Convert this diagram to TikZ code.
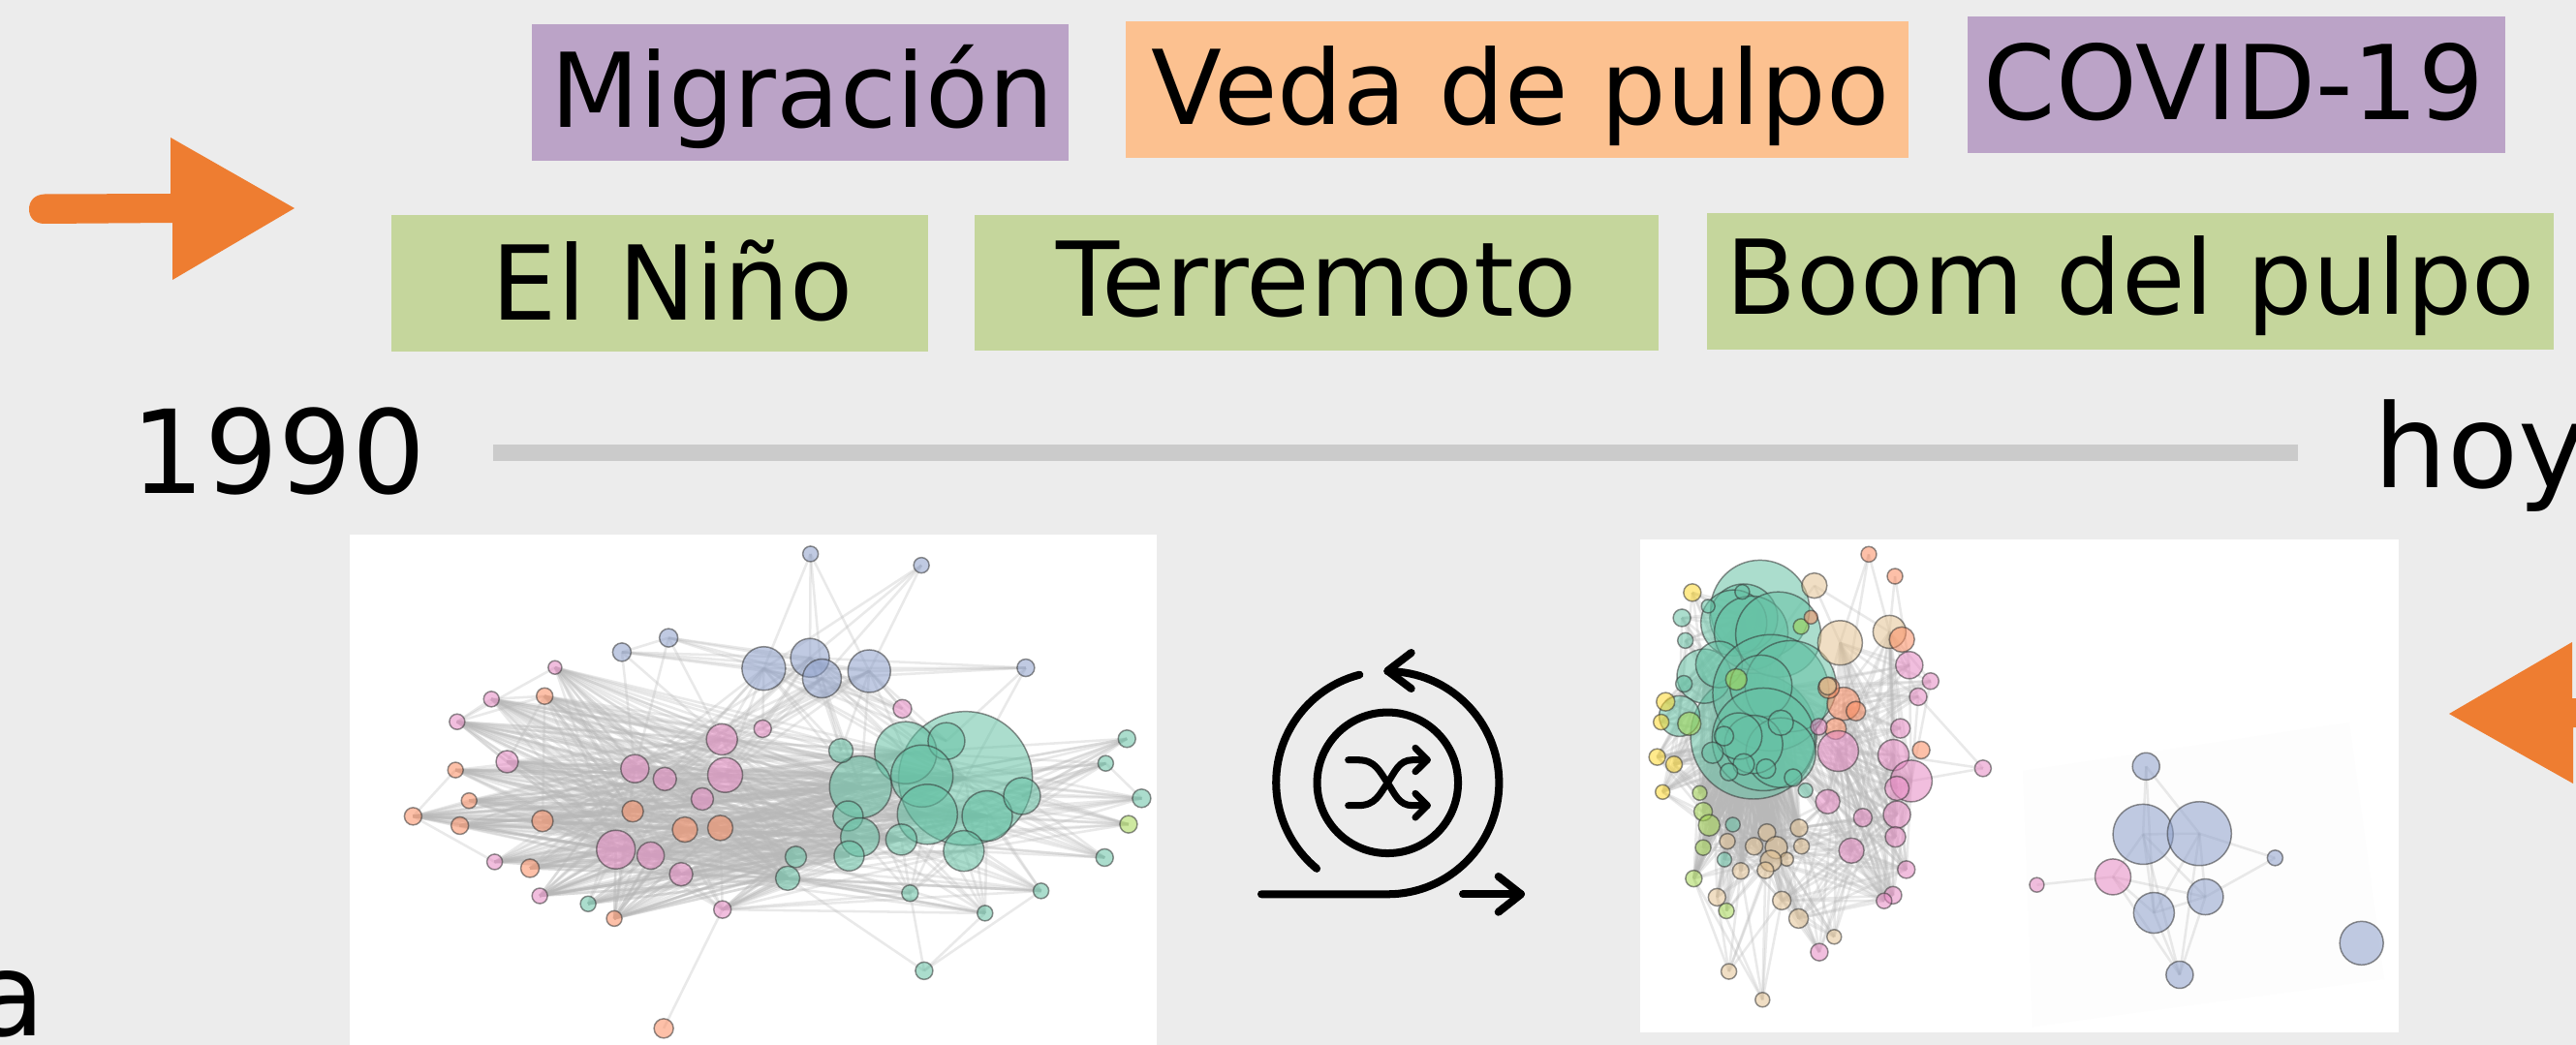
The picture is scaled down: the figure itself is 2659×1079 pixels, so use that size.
\documentclass[tikz,border=0pt]{standalone}
\usepackage{fontspec}
\setmainfont{DejaVu Sans}
\pgfdeclarelayer{panel}
\pgfdeclarelayer{edges}
\pgfsetlayers{panel,edges,main}
\definecolor{pageBg}{HTML}{ECECEC}
\definecolor{purpleTag}{HTML}{BBA3C7}
\definecolor{peachTag}{HTML}{FCC190}
\definecolor{greenTag}{HTML}{C5D69C}
\definecolor{barGrey}{HTML}{CBCBCB}
\definecolor{arrowOrange}{HTML}{EE7D31}
\definecolor{sGreen}{HTML}{66C2A5}
\definecolor{sOrange}{HTML}{FC8D62}
\definecolor{sBlue}{HTML}{8DA0CB}
\definecolor{sPink}{HTML}{E78AC3}
\definecolor{sLime}{HTML}{A6D854}
\definecolor{sYellow}{HTML}{FFD92F}
\definecolor{sTan}{HTML}{E5C494}
\definecolor{edgeGrey}{HTML}{B8B8B8}
\definecolor{patchWhite}{HTML}{FDFDFD}
\tikzset{
  tagbox/.style={anchor=north west,inner sep=0pt,outer sep=0pt},
  taglabel/.style={anchor=base west,inner sep=0pt,font=\fontsize{30.3}{36}\selectfont},
  yearlabel/.style={anchor=base west,inner sep=0pt,font=\fontsize{34}{40}\selectfont},
  gnode/.style={circle,inner sep=0pt,outer sep=0pt,draw=black!80,draw opacity=.55,fill opacity=.55,line width=.42pt},
  gedge/.style={draw=edgeGrey,draw opacity=.3,line width=.72pt},
  iconline/.style={line width=2.28pt,line cap=round,line join=round,black},
  bigarrow/.style={fill=arrowOrange,draw=none}
}
\newcommand{\gnodes}[4]{%
  \foreach \n/\px/\py/\r/\c in {#4}{
    \node[gnode,fill=\c,minimum size={2*\r*0.01cm}] (\n) at ({#1+\px/#3},{#2+\py/2.909}) {};
  }}
\newcommand{\links}[2]{%
  \foreach \a in {#1}{\foreach \b in {#2}{\draw[gedge] (\a.center) -- (\b.center);}}}
\begin{document}
\begin{tikzpicture}[x=0.01cm,y=-0.01cm]
\clip (0,0) rectangle (2659,1079);
\begin{pgfonlayer}{panel}
  \fill[pageBg] (0,0) rectangle (2659,1079);
  \fill[white] (361,552) rectangle (1194,1079);
  \fill[white] (1693,557) rectangle (2476,1066);
  \fill[patchWhite] (2088,796) -- (2425,746) -- (2461,1011) -- (2098,1060) -- cycle;
\end{pgfonlayer}

% tags
\node[tagbox,fill=purpleTag,minimum width=5.54cm,minimum height=1.41cm] (r1) at (549,25) {};
\node[tagbox,fill=peachTag,minimum width=8.08cm,minimum height=1.405cm] (r2) at (1162,22) {};
\node[tagbox,fill=purpleTag,minimum width=5.55cm,minimum height=1.41cm] (r3) at (2031,17) {};
\node[tagbox,fill=greenTag,minimum width=5.54cm,minimum height=1.406cm] (r4) at (404,222) {};
\node[tagbox,fill=greenTag,minimum width=7.06cm,minimum height=1.40cm] (r5) at (1006,222) {};
\node[tagbox,fill=greenTag,minimum width=8.73cm,minimum height=1.41cm] (r6) at (1762,220) {};
\node[taglabel] (t1) at (568,131.5) {Migración};
\node[taglabel] (t2) at (1188,129) {Veda de pulpo};
\node[taglabel] (t3) at (2047,124) {COVID-19};
\node[taglabel] (t4) at (507,330.5) {El Niño};
\node[taglabel] (t5) at (1090,327) {Terremoto};
\node[taglabel] (t6) at (1781,324.5) {Boom del pulpo};
\node[yearlabel] (y1990) at (135,509) {1990};
\node[yearlabel] (yhoy) at (2450,503) {hoy};
\node[yearlabel] (ya) at (-27,1069) {a};

% timeline
\node[fill=barGrey,inner sep=0pt,outer sep=0pt,anchor=north west,minimum width=18.62cm,minimum height=0.17cm] (bar) at (509,459) {};

% orange arrows
\path[bigarrow] (176,142) -- (304,215) -- (178,289) -- (178,230) -- (46,231)
  .. controls (35,231) and (30,224) .. (30,216) .. controls (30,208) and (35,201) .. (46,200.5)
  -- (176,200) -- cycle;
\path[bigarrow] (2528,737) -- (2655,663) -- (2655,721) -- (2670,721) -- (2670,751) -- (2656,751) -- (2656,809) -- cycle;

% icon
\node[circle,draw=black,line width=2.28pt,inner sep=0pt,minimum size=1.454cm] (inner) at (1432.3,808.3) {};
\draw[iconline] (1403.3,696.7) arc[start angle=104.6,end angle=230.5,radius=1.15cm];
\draw[iconline] (1302,923.3) -- (1432.3,923.3) arc[start angle=-90,end angle=90,radius=1.15cm];
\draw[iconline] (1456.7,674) -- (1432.3,692.7) -- (1456.7,711);
\draw[iconline] (1510,923.3) -- (1570,923.3);
\draw[iconline] (1546.7,905) -- (1570,923.3) -- (1546.7,941.7);
\draw[iconline,line width=2pt] (1391.7,784.7) -- (1402,784.7) .. controls (1420,784.7) and (1424,797) .. (1432.3,808.3) .. controls (1440,820) and (1444,831.7) .. (1458,831.7) -- (1473.3,831.7);
\draw[iconline,line width=2pt] (1391.7,831.7) -- (1402,831.7) .. controls (1420,831.7) and (1424,820) .. (1432.3,808.3) .. controls (1440,797) and (1444,784.7) .. (1458,784.7) -- (1473.3,784.7);
\draw[iconline,line width=2pt] (1461,819.3) -- (1473.3,831.7) -- (1461,844);
\draw[iconline,line width=2pt] (1461,772.3) -- (1473.3,784.7) -- (1461,796.7);

% graph 1 nodes
\gnodes{340}{540}{1.782}{
 b1/885/93/8/sBlue,b2/1089/127/8/sBlue,b3/624/345/9.5/sBlue,b4/538/388/9.5/sBlue,
 b5/799/437/22.5/sBlue,b6/884/405/20/sBlue,b7/906/467/20/sBlue,b8/993/445/22/sBlue,b9/1281/435/9/sBlue,
 p1/415/434/7/sPink,p2/298/529/8/sPink,p3/235/597/8/sPink,p4/327/717/11.5/sPink,
 p5/722/650/16/sPink,p6/797/618/9/sPink,p7/1054/558/9.5/sPink,p8/562/738/14.5/sPink,
 p9/617/769/12/sPink,p10/728/757/18/sPink,p11/686/829/11.5/sPink,p12/527/981/20/sPink,
 p13/591/999/14/sPink,p14/647/1055/12/sPink,p15/304/1018/8/sPink,p16/387/1120/8/sPink,p17/723/1161/9/sPink,
 o1/396/520/8.5/sOrange,o2/232/742/8/sOrange,o3/257/834/8/sOrange,o4/154/881/9/sOrange,
 o5/240/909/9/sOrange,o6/392/895/11/sOrange,o7/558/866/11/sOrange,o8/654/921/13/sOrange,
 o9/719/916/13/sOrange,o10/369/1037/9.5/sOrange,o11/524/1188/8/sOrange,o12/615/1518/10/sOrange,
 g1/1170/767/69/sGreen,g2/1060/690/32/sGreen,g3/1135/655/19/sGreen,g4/1090/760/32/sGreen,
 g5/1100/875/31/sGreen,g6/1210/880/26/sGreen,g7/1274/820/19/sGreen,g8/1167/985/21/sGreen,
 g9/977/793/32/sGreen,g10/941/684/12.5/sGreen,g11/954/880/15.5/sGreen,g12/976/944/20/sGreen,
 g13/956/1000/15.5/sGreen,g14/1052/951/16/sGreen,g15/858/1003/11/sGreen,g16/843/1067/12.5/sGreen,
 g17/476/1144/8/sGreen,g18/1068/1112/8.5/sGreen,g19/1206/1172/8/sGreen,g20/1309/1105/8/sGreen,
 g21/1094/1345/9/sGreen,g22/1467/648/9/sGreen,g23/1428/722/8/sGreen,g24/1494/827/9.5/sGreen,
 g25/1426/1005/9/sGreen,v1/1470/905/9/sLime}

% graph 2 nodes
\gnodes{1680}{540}{1.96}{
 H7/255/640/65/sGreen,H1/268/260/51/sGreen,H2/235/285/35/sGreen,H27/215/300/34/sGreen,H28/250/330/38/sGreen,H3/305/335/44/sGreen,H4/155/460/28/sGreen,H29/185/425/24/sGreen,
 H5/290/510/60/sGreen,H6/330/490/47/sGreen,H30/270/490/32/sGreen,H8/275/650/53/sGreen,H9/310/690/36/sGreen,H31/255/665/30/sGreen,H10/225/640/24/sGreen,
 H11/310/600/13/sGreen,H12/195/640/10/sGreen,H13/172/690/11/sGreen,H14/235/725/11/sGreen,H15/205/748/9/sGreen,
 H16/280/738/10/sGreen,H17/335/765/9/sGreen,H18/232/207/7.5/sGreen,H19/163/250/7/sGreen,H20/110/285/9/sGreen,
 H21/117/353/8/sGreen,H22/114/483/8.5/sGreen,H23/105/580/21/sGreen,H24/360/803/7.5/sGreen,H25/213/906/7.5/sGreen,H26/196/1011/7.5/sGreen,
 Y1/131/209/9/sYellow,Y2/77/537/9.5/sYellow,Y3/68/598/8/sYellow,Y4/60/703/8.5/sYellow,Y5/94/725/8.5/sYellow,Y6/71/808/7.5/sYellow,
 L1/351/311/8/sLime,L2/220/470/11/sLime,L3/125/603/12/sLime,L4/146/811/7.5/sLime,L5/153/867/9.5/sLime,
 L6/165/908/11/sLime,L7/153/975/8/sLime,L8/134/1068/8.5/sLime,L9/200/1165/8/sLime,
 R1/488/94/8/sOrange,R2/541/160/8/sOrange,R3/371/283/7/sOrange,R5/437/543/17/sOrange,R6/462/565/10/sOrange,
 R7/421/618/11/sOrange,R8/594/682/9/sOrange,R9/407/495/11/sOrange,
 T1/378/188/13/sTan,T2/430/360/23/sTan,T3/530/327/17/sTan,R4/555/350/13/sOrange,T4/405/490/9/sTan,
 T5/282/930/9/sTan,T6/347/916/9/sTan,T7/202/956/8/sTan,T8/256/971/9/sTan,T9/301/975/11.5/sTan,
 T10/352/971/8/sTan,T11/322/1010/7/sTan,T12/290/1015/11/sTan,T13/229/1045/8.5/sTan,T14/279/1043/8.5/sTan,
 T15/181/1124/9/sTan,T16/312/1134/9.5/sTan,T17/346/1188/10/sTan,T18/418/1243/7.5/sTan,T19/205/1347/8/sTan,T20/273/1432/7.5/sTan,
 K1/570/427/14/sPink,K2/613/475/8.5/sPink,K3/588/522/9/sPink,K4/552/617/10/sPink,K5/387/612/8.5/sPink,
 K6/426/685/21/sPink,K7/538/697/16/sPink,K8/574/775/21.5/sPink,K9/545/797/12.5/sPink,K10/719/737/8.5/sPink,
 K11/405/837/12.5/sPink,K12/545/876/14/sPink,K13/476/885/9.5/sPink,K14/542/943/10.5/sPink,K15/453/984/13/sPink,
 K16/564/1041/9/sPink,K17/537/1118/9/sPink,K18/519/1135/8/sPink,K19/388/1289/9/sPink,
 C1/1049/731/14/sBlue,C2/1043/935/31/sBlue,C3/1157/933/33/sBlue,C4/1310/1006/8/sBlue,C5/1169/1123/18.5/sBlue,
 C6/1065/1171/21/sBlue,C7/1117/1357/14/sBlue,C8/1485/1262/22.5/sBlue,D1/828/1087/7.5/sPink,D2/982/1063/18.5/sPink}

% edges
\begin{pgfonlayer}{edges}
 \links{p1,p2,p3,p4,p8,p9,p5,p10,p11,p12,p13,p14,p15,p16,p17,o1,o2,o3,o4,o5,o6,o7,o8,o9,o10,o11,g17}{g1,g2,g4,g5,g6,g9,g12,g13,g14,g15,g16}
 \links{o2,o3,o4,o5,p3,p2,p1,o1,p4,o6,p15,o10,p16,o11}{p8,p9,p10,p5,p11,p12,p13,p14,o7,o8,o9}
 \links{p16,g17,o11,p17}{p12,p13,p14,o8,o9,p8,g15,g16}
 \links{g16,g15,p17,p14,p13}{g18,g19,g20,g8}
 \links{b5,b6,b7,b8}{p5,p6,p8,p10,g2,g3,g9,g10,g1,p7,o7,p9}
 \links{b3,b4,b9,b1,b2}{b5,b6,b7,b8}
 \links{b3,b4}{p8,p5}
 \links{b9}{g1,g3}
 \links{g22,g23,g24,g25,v1}{g1,g2,g4,g5,g6,g7,g8,g9,g12,g14}
 \links{g18,g19,g20}{g1,g5,g6,g8,g9,g14,g16,g12}
 \links{g21}{g16,g18,g19,g20}
 \links{p17}{o12}
 \links{g23}{g24}
 \links{b3}{b4}
 \links{p3}{p1,p4,p2}
 \links{o1}{p3,p2,o6,p4}
 \links{o4}{o2,o3,o5,p15,o6}
 % graph 2
 \links{H4,H23,H5,H7,H8,H1,H2,H3}{Y1,Y2,Y3,Y4,Y5,Y6,H20,H21,H22,L4}
 \links{H1,H2,H3,H4,H5,H6,H7,H8,H9,H10,H27,H28,H29,H30,H31}{T5,T6,T7,T8,T9,T10,T11,T12,T13,T14,L4,L5,L6,L7,L8,H25,H26}
 \links{T5,T6,T7,T8,T9,T10,T11,T12,T13,T14,T15,T16,T17,L4,L5,L6,L7,L8,L9,H25,H26,Y4,Y5,Y6}{H7,H8,H9,H10,H14,H13,T9,T12,T7}
 \links{K1,K2,K3,K4,K5,K6,K7,K8,K9,K11,K12,K13,K14,K15,K16,K17,K18}{H5,H6,H8,H9,R5,T2,K6,K8,T3}
 \links{K11,K12,K13,K14,K15,K16,K17,K18,T18,K19}{T5,T6,T9,T12,T16,T17,K6,K7,K15}
 \links{T19,T20}{T15,T16,T12,L8,T13,T14}
 \links{T1}{T3,T2,H3}
 \links{R1}{T2,T3,R5}
 \links{R2}{T3,K1}
 \links{K10}{K3,K7,K8}
 \links{C1}{C2,C3,C6}
 \links{C2}{C3,D2,C5,C6,C7}
 \links{C3}{C4,C5,C6,C7}
 \links{C4}{C5}
 \links{C5}{C6,C7}
 \links{C6}{C7}
 \links{D1}{D2}
 \links{D2}{C5,C6,C7}
\end{pgfonlayer}
\end{tikzpicture}
\end{document}
